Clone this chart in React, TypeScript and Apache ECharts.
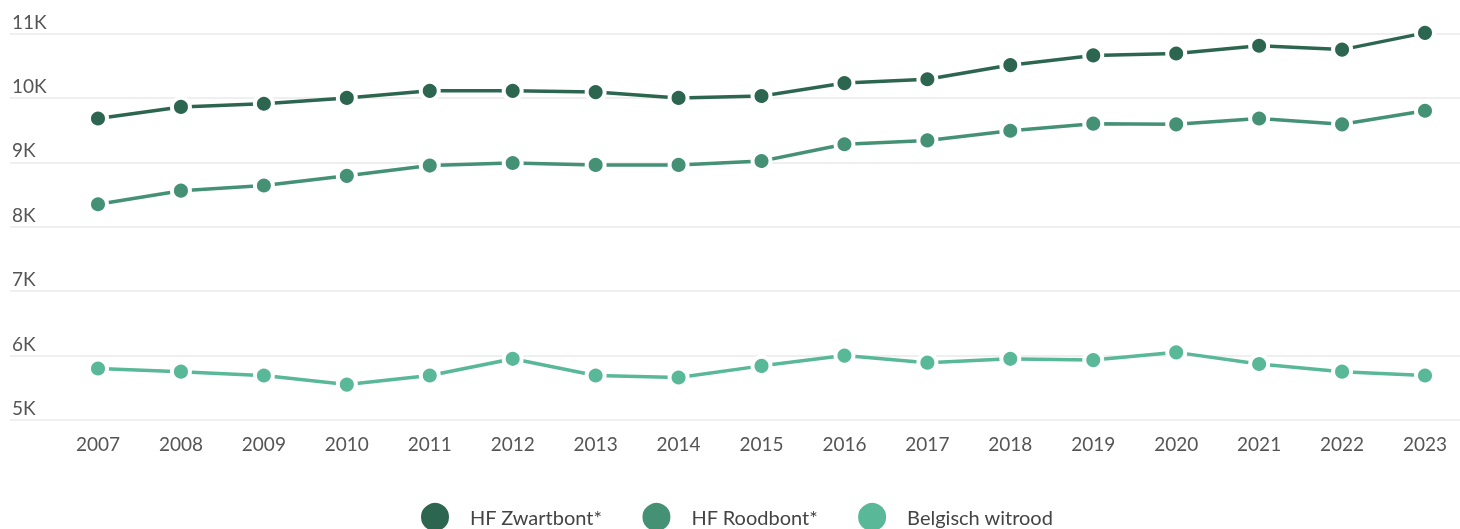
import React, { useEffect, useRef } from "react";
import * as echarts from "echarts";

const years = ["2007","2008","2009","2010","2011","2012","2013","2014","2015","2016","2017","2018","2019","2020","2021","2022","2023"];
const zwartbont = [9680, 9860, 9910, 10000, 10110, 10110, 10090, 10000, 10030, 10230, 10290, 10510, 10660, 10690, 10810, 10750, 11010];
const roodbont = [8350, 8560, 8640, 8790, 8950, 8990, 8960, 8960, 9020, 9280, 9340, 9490, 9600, 9590, 9680, 9590, 9800];
const witrood = [5800, 5750, 5690, 5550, 5690, 5950, 5690, 5660, 5840, 6000, 5890, 5950, 5930, 6050, 5870, 5750, 5690];
const seriesNames = ["HF Zwartbont*", "HF Roodbont*", "Belgisch witrood"];
const colors = ["#2d6650", "#449176", "#58b897"];

export default function App() {
  const ref = useRef<HTMLDivElement>(null);
  useEffect(() => {
    if (!ref.current) return;
    const chart = echarts.init(ref.current, null, { renderer: "svg" });
    const font = "Lato";
    const mk = (name: string, data: number[], color: string) => ({
      name,
      type: "line",
      xAxisIndex: 1,
      yAxisIndex: 1,
      data,
      color,
      clip: false,
      symbol: "circle",
      symbolSize: 18,
      lineStyle: { width: 3.5, color },
      itemStyle: { color, borderColor: "#ffffff", borderWidth: 4 },
    });
    chart.setOption({
      animation: false,
      textStyle: { fontFamily: font },
      grid: [
        { left: 10, right: 0, top: 33.5, bottom: 109, containLabel: false },
        { left: 98, right: 35, top: 33.5, bottom: 109, containLabel: false },
      ],
      xAxis: [
        { type: "value", gridIndex: 0, min: 0, max: 1, show: false },
        {
          type: "category",
          gridIndex: 1,
          data: years,
          boundaryGap: false,
          axisLine: { show: false },
          axisTick: { show: false },
          axisLabel: { color: "#555555", fontSize: 19, fontFamily: font, margin: 14 },
        },
      ],
      yAxis: [
        {
          type: "value",
          gridIndex: 0,
          min: 5000,
          max: 11000,
          interval: 1000,
          axisLine: { show: false },
          axisTick: { show: false },
          splitLine: { show: true, lineStyle: { color: "#efefef", width: 2 } },
          axisLabel: {
            inside: true,
            margin: 2,
            align: "left",
            verticalAlign: "bottom",
            color: "#555555",
            fontSize: 19,
            fontFamily: font,
            padding: [0, 0, 3, 0],
            formatter: (v: number) => v / 1000 + "K",
          },
        },
        { type: "value", gridIndex: 1, min: 5000, max: 11000, show: false },
      ],
      legend: {
        data: seriesNames,
        left: 414,
        top: 496,
        icon: "circle",
        itemWidth: 30,
        itemHeight: 30,
        itemGap: 38,
        textStyle: { color: "#444444", fontSize: 20, fontFamily: font, padding: [0, 0, 0, 15] },
      },
      series: [
        mk(seriesNames[0], zwartbont, colors[0]),
        mk(seriesNames[1], roodbont, colors[1]),
        mk(seriesNames[2], witrood, colors[2]),
      ],
    });
    return () => chart.dispose();
  }, []);
  return <div ref={ref} style={{ position: "fixed", left: 0, top: 0, width: 1460, height: 529 }} />;
}
